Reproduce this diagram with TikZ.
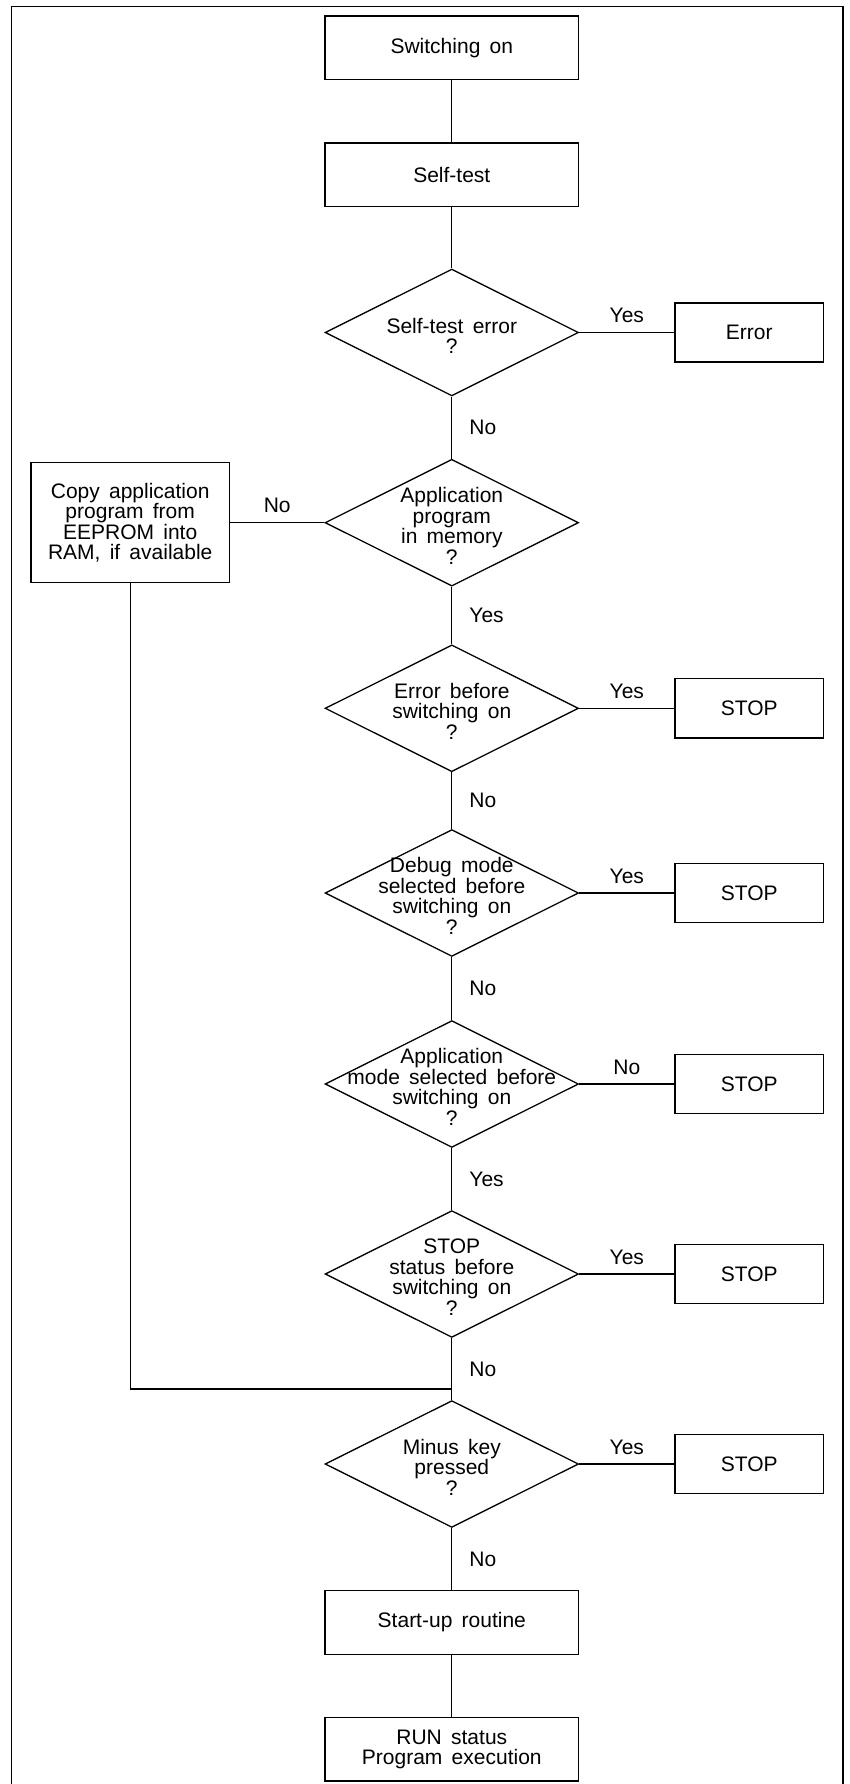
\documentclass[tikz,border=0pt]{standalone}
\usepackage{fontspec}
\setmainfont{Liberation Sans}
\usetikzlibrary{shapes.geometric}
\newcommand\fsz{\fontsize{21}{20.5}\selectfont\spaceskip 0.44em plus 0.1em\relax}
\begin{document}
\begin{tikzpicture}[x=1pt,y=-1pt,
  txt/.style={font=\fsz},
  line/.style={line width=1.3pt},
  framel/.style={line width=1.1pt},
  box/.style={txt,draw,line width=1.3pt,minimum width=253.5pt,minimum height=63.7pt,inner sep=0pt,align=center},
  sidebox/.style={txt,draw,line width=1.3pt,minimum width=148.3pt,minimum height=59.2pt,inner sep=0pt,align=center},
  copybox/.style={txt,draw,line width=1.3pt,minimum width=198.5pt,minimum height=120pt,inner sep=0pt,align=center},
  dia/.style={draw,line width=1.3pt,shape=diamond,minimum width=253.5pt,minimum height=126.8pt,inner sep=0pt},
  dtext/.style={txt,align=center,inner sep=0pt},
  lbl/.style={txt,inner sep=0pt},
]
\useasboundingbox (0,0) rectangle (850,1784);
% frame
\coordinate (f1) at (11.2,1784);
\coordinate (f2) at (11.2,6.7);
\coordinate (f3) at (843,6.7);
\coordinate (f4) at (843,1784);
\draw[framel] (f1) -- (f2) -- (f3) -- (f4);

% nodes
\node[box] (sw) at (451.8,48) {Switching on};
\node[box] (st) at (451.8,175) {Self-test};
\node[dia] (d1) at (451.8,332.5) {};
\node[dtext] (d1t) at (451.8,336) {Self-test error\\?};
\node[sidebox] (err) at (749.2,332.5) {Error};
\node[dia] (d2) at (451.8,522.7) {};
\node[dtext] (d2t) at (451.8,526) {Application\\program\\in memory\\?};
\node[copybox] (copy) at (130.2,522.7) {Copy application\\program from\\EEPROM into\\RAM, if available};
\node[dia] (d3) at (451.8,708.3) {};
\node[dtext] (d3t) at (451.8,711) {Error before\\switching on\\?};
\node[sidebox] (s1) at (749.2,708.3) {STOP};
\node[dia] (d4) at (451.8,893) {};
\node[dtext] (d4t) at (451.8,896) {Debug mode\\selected before\\switching on\\?};
\node[sidebox] (s2) at (749.2,893) {STOP};
\node[dia] (d5) at (451.8,1084) {};
\node[dtext] (d5t) at (451.8,1087) {Application\\mode selected before\\switching on\\?};
\node[sidebox] (s3) at (749.2,1084) {STOP};
\node[dia] (d6) at (451.8,1274) {};
\node[dtext] (d6t) at (451.8,1277) {STOP\\status before\\switching on\\?};
\node[sidebox] (s4) at (749.2,1274) {STOP};
\coordinate (j) at (451.8,1389);
\node[dia] (d7) at (451.8,1464) {};
\node[dtext] (d7t) at (451.8,1467) {Minus key\\pressed\\?};
\node[sidebox] (s5) at (749.2,1464) {STOP};
\node[box] (su) at (451.8,1622.5) {Start-up routine};
\node[box] (run) at (451.8,1749.2) {RUN status\\Program execution};

% connectors
\draw[line] (sw) -- (st);
\draw[line] (st) -- (d1);
\draw[line] (d1) -- node[lbl,above=9pt]{Yes} (err);
\draw[line] (d1) -- node[lbl,right=17pt]{No} (d2);
\draw[line] (d2) -- node[lbl,above=9pt]{No} (copy);
\draw[line] (d2) -- node[lbl,right=17pt]{Yes} (d3);
\draw[line] (d3) -- node[lbl,above=9pt]{Yes} (s1);
\draw[line] (d3) -- node[lbl,right=17pt]{No} (d4);
\draw[line] (d4) -- node[lbl,above=9pt]{Yes} (s2);
\draw[line] (d4) -- node[lbl,right=17pt]{No} (d5);
\draw[line] (d5) -- node[lbl,above=9pt]{No} (s3);
\draw[line] (d5) -- node[lbl,right=17pt]{Yes} (d6);
\draw[line] (d6) -- node[lbl,above=9pt]{Yes} (s4);
\draw[line] (d6) -- node[lbl,right=17pt]{No} (d7);
\draw[line] (copy) |- (j);
\draw[line] (d7) -- node[lbl,above=9pt]{Yes} (s5);
\draw[line] (d7) -- node[lbl,right=17pt]{No} (su);
\draw[line] (su) -- (run);
\end{tikzpicture}
\end{document}
